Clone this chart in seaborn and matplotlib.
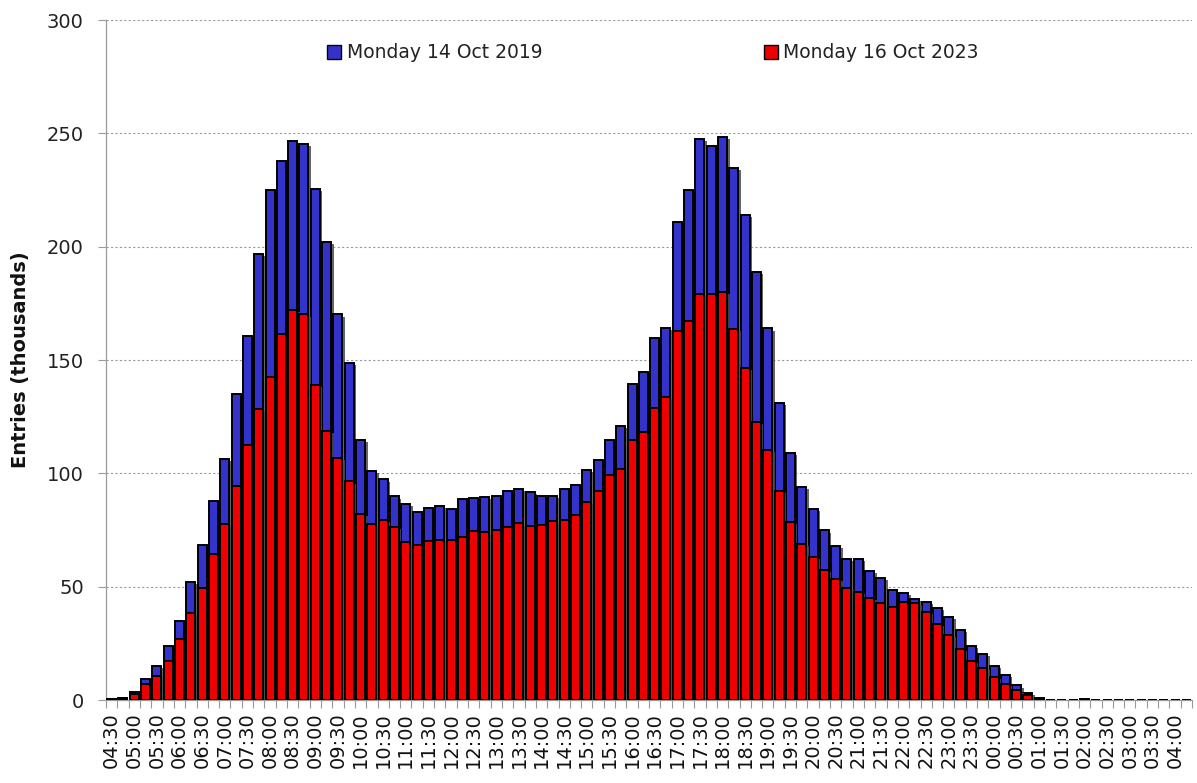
import numpy as np
import pandas as pd
import matplotlib
matplotlib.use("Agg")
import matplotlib.pyplot as plt
import matplotlib.patheffects as pe
from matplotlib.patches import Patch
import seaborn as sns

# Quarter-hour slots from 04:30 through 04:15 the next morning
slots = [f"{(4 * 60 + 30 + 15 * i) // 60 % 24:02d}:{(30 + 15 * i) % 60:02d}" for i in range(96)]

# Station entries per 15 minutes, thousands
entries_2019 = [
    0.4, 1.1, 3.5, 9.3, 15.0, 24.0, 34.9, 52.1, 68.2, 87.8,
    106.3, 135.0, 160.4, 196.8, 225.0, 237.8, 246.4, 245.3, 225.5, 201.9,
    170.1, 148.5, 114.7, 101.0, 97.3, 89.8, 86.3, 82.9, 84.9, 85.8,
    84.3, 88.7, 89.3, 89.6, 89.8, 92.2, 93.1, 91.6, 89.8, 90.0,
    93.1, 94.9, 101.3, 106.1, 114.9, 121.1, 139.6, 144.7, 159.7, 164.1,
    210.7, 225.0, 247.7, 244.2, 248.2, 234.7, 213.8, 188.8, 163.9, 131.0,
    109.0, 93.8, 84.3, 74.8, 67.9, 62.4, 62.2, 57.1, 54.0, 48.5,
    47.4, 44.6, 43.2, 40.8, 36.8, 30.7, 23.8, 20.5, 15.2, 11.0,
    6.4, 3.1, 1.1, 0.2, 0.1, 0.1, 0.3, 0.1, 0.1, 0.1,
    0.1, 0.1, 0.1, 0.1, 0.1, 0.1,
]
entries_2023 = [
    0.3, 0.8, 2.6, 7.1, 10.8, 17.4, 26.9, 38.4, 49.4, 64.2,
    77.7, 94.6, 112.3, 128.4, 142.3, 161.3, 172.1, 170.1, 139.0, 118.7,
    106.8, 96.4, 82.1, 77.7, 79.4, 76.3, 69.5, 68.6, 70.2, 70.8,
    70.6, 72.1, 74.6, 73.9, 75.2, 76.3, 77.9, 76.8, 77.2, 78.8,
    79.6, 81.4, 87.4, 92.0, 99.3, 102.1, 114.5, 118.2, 128.8, 133.5,
    162.8, 167.0, 179.3, 179.1, 180.2, 163.5, 146.3, 122.7, 110.5, 92.4,
    78.5, 68.8, 63.3, 57.4, 53.6, 49.6, 47.6, 45.2, 42.6, 41.0,
    43.2, 43.0, 39.0, 33.5, 28.7, 22.5, 17.4, 14.1, 10.1, 7.1,
    4.2, 2.0, 0.4, 0.05, 0.0, 0.0, 0.05, 0.0, 0.0, 0.0,
    0.0, 0.0, 0.0, 0.0, 0.0, 0.0,
]
series_labels = ["Monday 14 Oct 2019", "Monday 16 Oct 2023"]
series_colors = ["#3333CC", "#EE0000"]

sns.set_theme(style="white")
plt.rcParams["font.family"] = ["DejaVu Sans"]

df = pd.DataFrame({"slot": slots, "y2019": entries_2019, "y2023": entries_2023})

fig = plt.figure(figsize=(11.97, 7.83), dpi=100)
ax = fig.add_axes([106 / 1197, 1 - 700 / 783, (1192 - 106) / 1197, (700 - 20) / 783])

shadow = [pe.SimplePatchShadow(offset=(1.8, -1.5), shadow_rgbFace="#4a4a4a", alpha=0.85), pe.Normal()]

for col, color in zip(["y2019", "y2023"], series_colors):
    sns.barplot(data=df, x="slot", y=col, order=slots, color=color, saturation=1,
                width=0.8, edgecolor="black", linewidth=1.4, ax=ax, zorder=3)

for bar in ax.patches:
    bar.set_path_effects(shadow)

ax.set_ylim(0, 300)
ax.set_xlim(-0.5, len(slots) - 0.5)
ax.set_yticks(np.arange(0, 301, 50))
ax.grid(axis="y", color="#9a9a9a", linestyle=(0, (2, 2)), linewidth=0.8, zorder=0)
ax.set_axisbelow(True)

# Labels on every half hour, tick marks on slot boundaries
ax.set_xticks(range(0, len(slots), 2))
ax.set_xticklabels(slots[::2], rotation=90, fontsize=14, color="#111111")
ax.set_xticks(np.arange(-0.5, len(slots), 1), minor=True)
ax.tick_params(axis="x", which="major", length=0, pad=9)
ax.tick_params(axis="x", which="minor", length=6, width=0.8, color="#9a9a9a", bottom=True)
ax.tick_params(axis="y", which="major", length=6, width=0.8, color="#9a9a9a", left=True,
               labelsize=14, labelcolor="#222222", pad=10)

for side in ["top", "right"]:
    ax.spines[side].set_visible(False)
for side in ["left", "bottom"]:
    ax.spines[side].set_color("#9a9a9a")
    ax.spines[side].set_linewidth(0.9)

ax.set_xlabel("")
ax.set_ylabel("Entries (thousands)", fontsize=14, fontweight="bold", color="#111111", labelpad=12)

handles = [Patch(facecolor=c, edgecolor="black", linewidth=1.0) for c in series_colors]
fig.legend(handles, series_labels, loc="center", bbox_to_anchor=(653 / 1197, 1 - 53 / 783),
           ncol=2, frameon=False, fontsize=13.5, handlelength=0.75, handleheight=0.75,
           handletextpad=0.3, columnspacing=11.8, labelcolor="#222222")

fig.savefig("out.png", dpi=100, facecolor="white")
